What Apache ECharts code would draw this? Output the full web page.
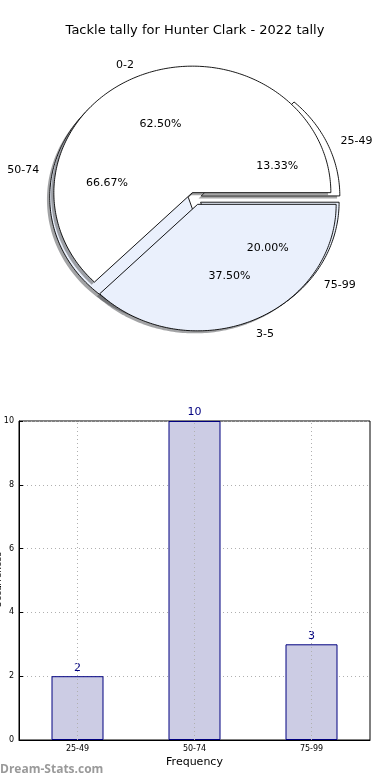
<!DOCTYPE html>
<html><head><meta charset="utf-8">
<script src="https://cdn.jsdelivr.net/npm/echarts@6/dist/echarts.min.js"></script>
<style>html,body{margin:0;padding:0;background:#fff}#c{width:390px;height:780px}</style>
</head><body><div id="c"></div>
<script>
const titleText = 'Tackle tally for Hunter Clark - 2022 tally';
const pieACats = ['0-2', '3-5'];
const pieAVals = [62.5, 37.5];
const pieBCats = ['25-49', '50-74', '75-99'];
const pieBVals = [13.33, 66.67, 20.0];
const barCats = ['25-49', '50-74', '75-99'];
const barVals = [2, 10, 3];
const yTicks = [0, 2, 4, 6, 8, 10];

const FONT = 'DejaVu Sans';
const WHITE = '#ffffff', BLUE = '#eaf0fc';
const pieAColors = [WHITE, BLUE];
const pieBColors = [WHITE, BLUE, BLUE];
// elliptical pie geometry (matplotlib pie on non-equal aspect axes)
const CX = 195, CY = 198.5, RX = 138.5, RY = 126.5;
const EXPLODE = 0.05, SHADOW = 0.02, PCTDIST = 0.6, LABELDIST = 1.1, TEXT_DY = 1.5;

function angles(vals) {
  const tot = vals.reduce((a, b) => a + b, 0);
  let a = 0;
  return vals.map(v => { const s = a; a += v / tot * 360; return [s, a]; });
}
function wedgeGeom(vals, i) {
  const [a1, a2] = angles(vals)[i];
  const mid = (a1 + a2) / 2 * Math.PI / 180;
  const ox = CX + EXPLODE * RX * Math.cos(mid);
  const oy = CY - EXPLODE * RY * Math.sin(mid);
  return {a1, a2, mid, ox, oy};
}
function wedgePoints(g, dx, dy) {
  const pts = [[g.ox + dx, g.oy + dy]];
  const n = Math.max(2, Math.ceil((g.a2 - g.a1) / 1));
  for (let k = 0; k <= n; k++) {
    const t = (g.a1 + (g.a2 - g.a1) * k / n) * Math.PI / 180;
    pts.push([g.ox + dx + RX * Math.cos(t), g.oy + dy - RY * Math.sin(t)]);
  }
  return pts;
}
function shadeColor(hex) {
  const n = parseInt(hex.slice(1), 16);
  const r = Math.round(((n >> 16) & 255) * 0.3), gg = Math.round(((n >> 8) & 255) * 0.3), b = Math.round((n & 255) * 0.3);
  return 'rgba(' + r + ',' + gg + ',' + b + ',0.5)';
}
function shadowSeries(vals, colors, z) {
  return {type: 'custom', coordinateSystem: 'none', silent: true, animation: false, z: z,
    data: vals,
    renderItem: (params) => {
      const g = wedgeGeom(vals, params.dataIndex);
      return {type: 'polygon', shape: {points: wedgePoints(g, -SHADOW * RX, SHADOW * RY)},
        style: {fill: shadeColor(colors[params.dataIndex]), stroke: null}};
    }};
}
function wedgeSeries(vals, colors, z) {
  return {type: 'custom', coordinateSystem: 'none', silent: true, animation: false, z: z,
    data: vals,
    renderItem: (params) => {
      const g = wedgeGeom(vals, params.dataIndex);
      return {type: 'polygon', shape: {points: wedgePoints(g, 0, 0)},
        style: {fill: colors[params.dataIndex], stroke: '#000', lineWidth: 0.9, lineJoin: 'miter'}};
    }};
}
function labelSeries(cats, vals, z) {
  return {type: 'custom', coordinateSystem: 'none', silent: true, animation: false, z: z,
    data: vals,
    renderItem: (params, api) => {
      const i = params.dataIndex;
      const g = wedgeGeom(vals, i);
      const c = Math.cos(g.mid), s = Math.sin(g.mid);
      const tot = vals.reduce((a, b) => a + b, 0);
      return {type: 'group', children: [
        {type: 'text', x: g.ox + LABELDIST * RX * c, y: g.oy - LABELDIST * RY * s + TEXT_DY,
          style: {text: cats[i], fontFamily: FONT, fontSize: 11, fill: '#000',
            align: c > 0 ? 'left' : 'right', verticalAlign: 'middle'}},
        {type: 'text', x: g.ox + PCTDIST * RX * c, y: g.oy - PCTDIST * RY * s + TEXT_DY,
          style: {text: (api.value(0) / tot * 100).toFixed(2) + '%', fontFamily: FONT, fontSize: 11, fill: '#000',
            align: 'center', verticalAlign: 'middle'}}
      ]};
    }};
}

const chart = echarts.init(document.getElementById('c'), null, {renderer: 'canvas'});
chart.setOption({
  animation: false,
  backgroundColor: '#fff',
  title: {text: titleText, left: 'center', top: 19,
    textStyle: {fontFamily: FONT, fontSize: 13, fontWeight: 'normal', color: '#000'}},
  grid: {left: 19, right: 20, top: 421, bottom: 40, show: true, borderColor: '#000', borderWidth: 1,
    containLabel: false, outerBoundsMode: 'none'},
  xAxis: {type: 'category', data: barCats, name: 'Frequency', nameLocation: 'middle', nameGap: 17,
    nameTextStyle: {fontFamily: FONT, fontSize: 11, color: '#000'},
    axisLine: {lineStyle: {color: '#000'}}, axisTick: {show: false},
    axisLabel: {fontFamily: FONT, fontSize: 8, color: '#000', margin: 5}},
  yAxis: {type: 'value', min: 0, max: 10, interval: 2,
    axisLine: {show: true, lineStyle: {color: '#000'}},
    axisTick: {show: true, inside: true, length: 4, lineStyle: {color: '#000'}},
    axisLabel: {fontFamily: FONT, fontSize: 8, color: '#000', margin: 5,
      formatter: v => yTicks.includes(v) ? String(v) : ''},
    splitLine: {show: true, lineStyle: {color: '#b0b0b0', type: [1, 3], width: 1}}},
  graphic: [
    {type: 'text', left: 0, top: 764,
      style: {text: 'Dream-Stats.com', fontFamily: 'Open Sans', fontSize: 12, fontWeight: 'bold', fill: '#9a9a9a'}},
    {type: 'text', x: 3, y: 580, rotation: Math.PI / 2,
      style: {text: 'Occurrences', fontFamily: FONT, fontSize: 9, fill: '#000', align: 'center', verticalAlign: 'bottom'}}
  ],
  series: [
    shadowSeries(pieBVals, pieBColors, 1),
    wedgeSeries(pieBVals, pieBColors, 2),
    shadowSeries(pieAVals, pieAColors, 3),
    wedgeSeries(pieAVals, pieAColors, 4),
    labelSeries(pieBCats, pieBVals, 5),
    labelSeries(pieACats, pieAVals, 5),
    {type: 'bar', data: barVals, barWidth: 52,
      itemStyle: {color: '#ccccE4', borderColor: '#000080', borderWidth: 1},
      label: {show: true, position: 'top', distance: 3, fontFamily: FONT, fontSize: 11, color: '#000080'},
      markLine: {silent: true, symbol: 'none', label: {show: false},
        lineStyle: {color: '#b0b0b0', type: [1, 3], width: 1},
        data: barCats.map(c => ({xAxis: c}))},
      z: 3}
  ]
});
</script></body></html>
